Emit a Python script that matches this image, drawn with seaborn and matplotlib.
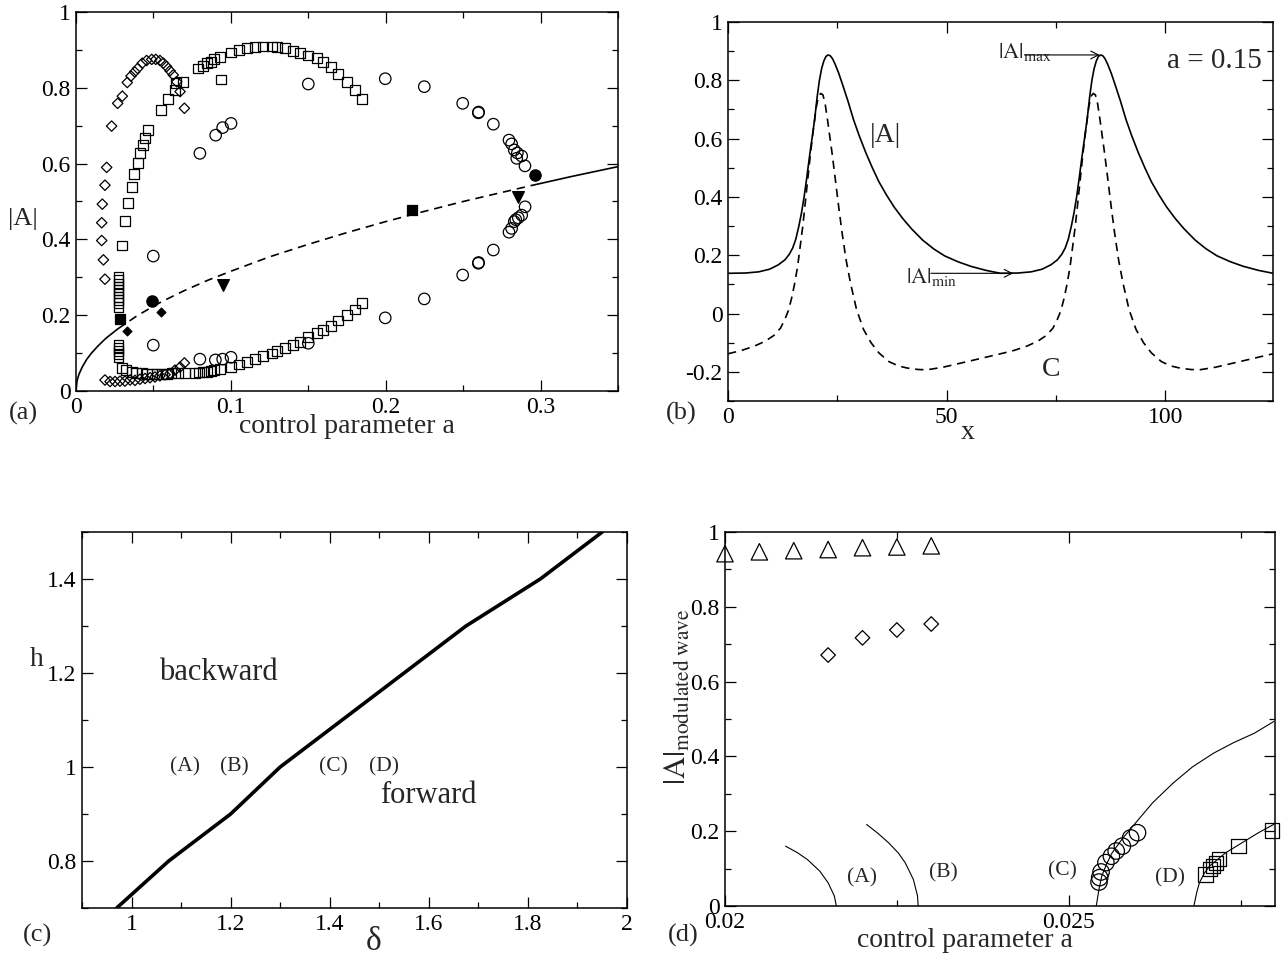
import matplotlib
matplotlib.use("Agg")
import matplotlib.pyplot as plt
import seaborn as sns
from matplotlib.ticker import MultipleLocator, FuncFormatter

# ============ DATA ============
# ---- panel (a): |A| vs control parameter a ----
line_a_lo = [0, 0.0005, 0.001, 0.002, 0.004, 0.007, 0.010, 0.014, 0.019, 0.027]
line_v_lo = [0, 0.022, 0.032, 0.045, 0.063, 0.084, 0.100, 0.118, 0.138, 0.164]
line_a_mid = [0.027, 0.04, 0.055, 0.07, 0.085, 0.10, 0.125, 0.15, 0.175, 0.20, 0.225, 0.25, 0.275, 0.295]
line_v_mid = [0.164, 0.200, 0.235, 0.265, 0.292, 0.316, 0.354, 0.387, 0.418, 0.447, 0.474, 0.500, 0.524, 0.543]
line_a_hi = [0.295, 0.32, 0.35]
line_v_hi = [0.543, 0.566, 0.592]

dia_a = [0.0187, 0.0177, 0.0166, 0.0166, 0.0170, 0.0187, 0.0198, 0.0230, 0.0269, 0.0299,
         0.0331, 0.0355, 0.0379, 0.0398, 0.0428, 0.0456, 0.0489, 0.0515, 0.0542, 0.0564,
         0.0585, 0.0607, 0.0628, 0.0650, 0.0672, 0.0700,
         0.0187, 0.0220, 0.0252, 0.0284, 0.0316, 0.0349, 0.0381, 0.0413, 0.0446, 0.0478,
         0.0510, 0.0542, 0.0575, 0.0607, 0.0639, 0.0672, 0.0700]
dia_v = [0.295, 0.346, 0.397, 0.444, 0.493, 0.543, 0.590, 0.699, 0.759, 0.778,
         0.814, 0.831, 0.842, 0.851, 0.865, 0.872, 0.875, 0.875, 0.872, 0.865,
         0.856, 0.845, 0.834, 0.816, 0.790, 0.746,
         0.029, 0.025, 0.025, 0.026, 0.026, 0.029, 0.028, 0.031, 0.033, 0.035,
         0.037, 0.040, 0.043, 0.046, 0.055, 0.063, 0.074]

sq_a = [0.0275] * 10 + [0.0275] * 5 + \
       [0.0295, 0.0316, 0.0338, 0.0360, 0.0377, 0.0398, 0.0413, 0.0435, 0.0446, 0.0463,
        0.0547, 0.0596, 0.0639, 0.0644, 0.0693] + \
       [0.0295, 0.0324, 0.0360, 0.0390, 0.0424, 0.0456, 0.0489, 0.0520, 0.0553, 0.0585,
        0.0617, 0.0660, 0.0704] + \
       [0.0790, 0.0818, 0.0844, 0.0870, 0.0893, 0.0930, 0.0999, 0.1053, 0.1102, 0.1156,
        0.1210, 0.1264, 0.1296, 0.1350, 0.1403, 0.1446, 0.1500, 0.1554, 0.1597, 0.1645,
        0.1694, 0.1748, 0.1802, 0.1849] + \
       [0.0768, 0.0796, 0.0818, 0.0844, 0.0870, 0.0893, 0.0930, 0.0999, 0.1053, 0.1102,
        0.1156, 0.1210, 0.1264, 0.1296, 0.1350, 0.1403, 0.1446, 0.1500, 0.1554, 0.1597,
        0.1645, 0.1694, 0.1748, 0.1802, 0.1849] + [0.0936]
sq_v = [0.300, 0.292, 0.283, 0.275, 0.266, 0.258, 0.249, 0.240, 0.232, 0.222] + \
       [0.121, 0.113, 0.105, 0.097, 0.089] + \
       [0.384, 0.449, 0.495, 0.539, 0.573, 0.601, 0.627, 0.649, 0.667, 0.689,
        0.741, 0.770, 0.794, 0.813, 0.816] + \
       [0.060, 0.055, 0.051, 0.048, 0.047, 0.045, 0.044, 0.044, 0.044, 0.045,
        0.047, 0.047, 0.047] + \
       [0.851, 0.858, 0.865, 0.869, 0.875, 0.882, 0.893, 0.900, 0.906, 0.908,
        0.909, 0.909, 0.908, 0.904, 0.898, 0.891, 0.885, 0.878, 0.869, 0.855,
        0.836, 0.816, 0.794, 0.770] + \
       [0.048, 0.049, 0.050, 0.051, 0.053, 0.055, 0.057, 0.063, 0.070, 0.077,
        0.084, 0.092, 0.099, 0.106, 0.114, 0.121, 0.130, 0.142, 0.152, 0.161,
        0.172, 0.186, 0.200, 0.215, 0.233] + [0.822]

circ_a = [0.0499, 0.0499, 0.0800, 0.0902, 0.0947, 0.1001, 0.0800, 0.0900, 0.0947, 0.1001,
          0.1500, 0.1500, 0.1997, 0.1997, 0.2249, 0.2249, 0.2497, 0.2497, 0.2598, 0.2600,
          0.2598, 0.2600, 0.2695, 0.2695, 0.2796, 0.2813, 0.2830, 0.2846, 0.2850, 0.2878,
          0.2899, 0.2900, 0.2878, 0.2856, 0.2840, 0.2830, 0.2813, 0.2796]
circ_v = [0.356, 0.121, 0.627, 0.675, 0.695, 0.706, 0.084, 0.082, 0.084, 0.089,
          0.810, 0.126, 0.824, 0.193, 0.803, 0.243, 0.759, 0.306, 0.734, 0.736,
          0.337, 0.339, 0.704, 0.372, 0.662, 0.652, 0.636, 0.614, 0.628, 0.620,
          0.594, 0.486, 0.464, 0.457, 0.452, 0.447, 0.429, 0.419]

fsq_a, fsq_v = [0.0284, 0.2168], [0.189, 0.478]
fcirc_a, fcirc_v = [0.0493, 0.2964], [0.238, 0.570]
fdia_a, fdia_v = [0.0331, 0.0547], [0.159, 0.209]
ftri_a, ftri_v = [0.0951, 0.2852], [0.280, 0.511]

# ---- panel (b): profiles at a = 0.15 ----
bx_A = [0, 4, 7, 9.5, 11.5, 13.0, 14.0, 14.8, 15.5, 16.2,
        16.8, 17.4, 18.0, 18.6, 19.2, 19.8, 20.4, 20.9, 21.4, 21.9,
        22.4, 22.9, 23.4, 23.9, 24.5, 25.3, 26.2, 27.4, 28.7, 30.0,
        31.5, 33.0, 34.5, 36.3, 38.0, 40.0, 42.0, 44.5, 47.0, 49.5,
        52.5, 55.5, 59.0,
        62.3, 66.3, 69.3, 71.8, 73.8, 75.3, 76.3, 77.1, 77.8, 78.5,
        79.1, 79.7, 80.3, 80.9, 81.5, 82.1, 82.7, 83.2, 83.7, 84.2,
        84.7, 85.2, 85.7, 86.2, 86.8, 87.6, 88.5, 89.7, 91.0, 92.3,
        93.8, 95.3, 96.8, 98.6, 100.3, 102.3, 104.3, 106.8, 109.3, 111.8,
        114.8, 117.8, 121.3, 124.6]
by_A = [0.138, 0.139, 0.143, 0.152, 0.167, 0.184, 0.203, 0.225, 0.255, 0.300,
        0.345, 0.400, 0.465, 0.535, 0.600, 0.665, 0.745, 0.800, 0.840, 0.866,
        0.882, 0.887, 0.884, 0.874, 0.855, 0.825, 0.785, 0.730, 0.665, 0.610,
        0.552, 0.500, 0.452, 0.405, 0.365, 0.325, 0.290, 0.252, 0.222, 0.198,
        0.178, 0.162, 0.148,
        0.138, 0.139, 0.143, 0.152, 0.167, 0.184, 0.203, 0.225, 0.255, 0.300,
        0.345, 0.400, 0.465, 0.535, 0.600, 0.665, 0.745, 0.800, 0.840, 0.866,
        0.882, 0.887, 0.884, 0.874, 0.855, 0.825, 0.785, 0.730, 0.665, 0.610,
        0.552, 0.500, 0.452, 0.405, 0.365, 0.325, 0.290, 0.252, 0.222, 0.198,
        0.178, 0.162, 0.148, 0.138]
bx_C = [0, 3, 6, 8.5, 10.5, 12.0, 13.0, 13.8, 14.5, 15.2,
        15.9, 16.5, 17.1, 17.7, 18.3, 18.9, 19.6, 20.2, 20.7, 21.2,
        21.7, 22.2, 22.7, 23.2, 23.7, 24.5, 25.3, 26.1, 27.0, 28.0,
        29.4, 31.0, 32.7, 34.5, 36.8, 39.0, 41.0, 43.5, 45.5, 49.2,
        55.8,
        62.3, 65.3, 68.3, 70.8, 72.8, 74.3, 75.3, 76.1, 76.8, 77.5,
        78.2, 78.8, 79.4, 80.0, 80.6, 81.2, 81.9, 82.5, 83.0, 83.5,
        84.0, 84.5, 85.0, 85.5, 86.0, 86.8, 87.6, 88.4, 89.3, 90.3,
        91.7, 93.3, 95.0, 96.8, 99.1, 101.3, 103.3, 105.8, 107.8, 111.5,
        118.1, 124.6]
by_C = [-0.138, -0.127, -0.112, -0.095, -0.075, -0.050, -0.020, 0.010, 0.050, 0.100,
        0.160, 0.230, 0.300, 0.385, 0.470, 0.555, 0.641, 0.710, 0.745, 0.755,
        0.750, 0.720, 0.670, 0.615, 0.561, 0.465, 0.367, 0.275, 0.184, 0.105,
        0.013, -0.055, -0.100, -0.135, -0.165, -0.180, -0.187, -0.192, -0.193, -0.184,
        -0.161,
        -0.138, -0.127, -0.112, -0.095, -0.075, -0.050, -0.020, 0.010, 0.050, 0.100,
        0.160, 0.230, 0.300, 0.385, 0.470, 0.555, 0.641, 0.710, 0.745, 0.755,
        0.750, 0.720, 0.670, 0.615, 0.561, 0.465, 0.367, 0.275, 0.184, 0.105,
        0.013, -0.055, -0.100, -0.135, -0.165, -0.180, -0.187, -0.192, -0.193, -0.184,
        -0.161, -0.138]

# ---- panel (c): phase boundary ----
c_delta = [0.97, 1.075, 1.2, 1.3, 1.675, 1.825, 1.95]
c_h = [0.70, 0.80, 0.90, 1.00, 1.30, 1.40, 1.50]

# ---- panel (d): modulated wave amplitude ----
d_tri_a = [0.0200, 0.0205, 0.0210, 0.0215, 0.0220, 0.0225, 0.0230]
d_tri_v = [0.942, 0.947, 0.950, 0.953, 0.958, 0.960, 0.963]
d_dia_a = [0.0215, 0.0220, 0.0225, 0.0230]
d_dia_v = [0.671, 0.717, 0.738, 0.754]
d_circ_a = [0.02544, 0.02545, 0.02547, 0.02554, 0.02562, 0.02569, 0.02578, 0.02590, 0.02600]
d_circ_v = [0.064, 0.076, 0.091, 0.116, 0.133, 0.147, 0.160, 0.182, 0.196]
d_sq_a = [0.02699, 0.02705, 0.02710, 0.02714, 0.02718, 0.02747, 0.02796]
d_sq_v = [0.084, 0.098, 0.107, 0.116, 0.126, 0.160, 0.202]
d_curveA_a = [0.02088, 0.02105, 0.02120, 0.02138, 0.02150, 0.02159, 0.02162]
d_curveA_v = [0.160, 0.143, 0.124, 0.093, 0.062, 0.027, 0.000]
d_curveB_a = [0.02206, 0.02222, 0.02238, 0.02252, 0.02262, 0.02274, 0.02280, 0.02281]
d_curveB_v = [0.218, 0.195, 0.169, 0.142, 0.116, 0.071, 0.027, 0.000]
d_curveC_a = [0.02540, 0.02544, 0.02548, 0.02555, 0.02563, 0.02578, 0.02593, 0.02622, 0.02652, 0.02680, 0.02711, 0.02740, 0.02770, 0.02798]
d_curveC_v = [0.000, 0.045, 0.080, 0.112, 0.142, 0.180, 0.213, 0.276, 0.329, 0.372, 0.409, 0.437, 0.462, 0.493]
d_curveD_a = [0.02682, 0.02686, 0.02690, 0.02697, 0.02705, 0.02728, 0.02752, 0.02776, 0.02798]
d_curveD_v = [0.000, 0.035, 0.062, 0.087, 0.107, 0.142, 0.169, 0.196, 0.218]

# ============ STYLE ============
sns.set_theme(style="ticks")
plt.rcParams["font.family"] = ["Liberation Serif", "DejaVu Serif"]
plt.rcParams["mathtext.fontset"] = "stix"
plt.rcParams["axes.linewidth"] = 1.1
plt.rcParams["axes.edgecolor"] = "black"

TICK_FS = 17

fig = plt.figure(figsize=(12.82, 9.59), dpi=100)
W, H = 1282.0, 959.0


def add_ax(l, t, r, b):
    return fig.add_axes([l / W, 1 - b / H, (r - l) / W, (b - t) / H])


fmt = FuncFormatter(lambda v, p: "%g" % round(v, 6))


def style(ax, xlim, ylim, xmaj, xmin, ymaj, ymin):
    ax.set_xlim(*xlim)
    ax.set_ylim(*ylim)
    ax.xaxis.set_major_locator(MultipleLocator(xmaj))
    ax.xaxis.set_minor_locator(MultipleLocator(xmin))
    ax.yaxis.set_major_locator(MultipleLocator(ymaj))
    ax.yaxis.set_minor_locator(MultipleLocator(ymin))
    ax.xaxis.set_major_formatter(fmt)
    ax.yaxis.set_major_formatter(fmt)
    ax.tick_params(which="both", direction="in", top=True, right=True,
                   colors="black", width=0.9, labelsize=TICK_FS)
    ax.tick_params(which="major", length=8, pad=4)
    ax.tick_params(which="minor", length=4)
    for s in ax.spines.values():
        s.set_visible(True)
        s.set_linewidth(1.1)
        s.set_color("black")
    ax.set_facecolor("white")
    ax.grid(False)


def line(ax, x, y, lw=1.2, ls="-"):
    sns.lineplot(x=x, y=y, ax=ax, color="black", linewidth=lw, sort=False,
                 estimator=None, legend=False)
    ln = ax.get_lines()[-1]
    ln.set_linestyle(ls)
    ln.set_solid_joinstyle("round")
    return ln


def pts(ax, x, y, marker, s, filled=False, lw=0.9, clip=True):
    sns.scatterplot(x=x, y=y, ax=ax, marker=marker, s=s, color="black",
                    linewidth=lw, legend=False, zorder=3)
    c = ax.collections[-1]
    if not filled:
        c.set_facecolor("none")
    c.set_edgecolor("black")
    c.set_linewidth(lw)
    c.set_clip_on(clip)
    return c


# ---------------- (a) ----------------
axA = add_ax(76, 12, 618, 391)
line(axA, line_a_lo, line_v_lo)
line(axA, line_a_mid, line_v_mid, ls=(0, (5, 3.5)))
line(axA, line_a_hi, line_v_hi)
pts(axA, dia_a, dia_v, "D", 28)
pts(axA, sq_a, sq_v, "s", 50)
pts(axA, circ_a, circ_v, "o", 68)
pts(axA, fsq_a, fsq_v, "s", 55, filled=True)
pts(axA, fcirc_a, fcirc_v, "o", 66, filled=True)
pts(axA, fdia_a, fdia_v, "D", 20, filled=True)
pts(axA, ftri_a, ftri_v, "v", 72, filled=True)
style(axA, (0, 0.35), (0, 1), 0.1, 0.05, 0.2, 0.1)
axA.set_xlabel("control parameter a", fontsize=20)
axA.xaxis.set_label_coords(0.5, -0.062)
axA.set_ylabel("|A|", fontsize=19, rotation=0, ha="center", va="center")
axA.yaxis.set_label_coords(-0.098, 0.454)

# ---------------- (b) ----------------
axB = add_ax(728, 22, 1273, 401)
line(axB, bx_A, by_A, lw=1.2)
line(axB, bx_C, by_C, lw=1.2, ls=(0, (5, 3.5)))
style(axB, (0, 124.6), (-0.3, 1), 50, 25, 0.2, 0.1)
axB.set_xlabel("x", fontsize=20)
axB.xaxis.set_label_coords(0.44, -0.05)
axB.set_ylabel("")
axB.text(36.1, 0.61, "|A|", fontsize=20, ha="center", va="center")
axB.text(73.8, -0.193, "C", fontsize=20, ha="center", va="center")
axB.text(111.3, 0.867, "a = 0.15", fontsize=21, ha="center", va="center")
axB.text(61.8, 0.896, r"$|\mathrm{A}|_{\mathrm{max}}$", fontsize=16, ha="left", va="center")
axB.annotate("", xy=(85.0, 0.887), xytext=(67.8, 0.887),
             arrowprops=dict(arrowstyle="->", lw=0.8, color="black",
                             shrinkA=0, shrinkB=0, mutation_scale=14))
axB.text(40.7, 0.127, r"$|\mathrm{A}|_{\mathrm{min}}$", fontsize=16, ha="left", va="center")
axB.annotate("", xy=(65.2, 0.138), xytext=(46.4, 0.138),
             arrowprops=dict(arrowstyle="->", lw=0.8, color="black",
                             shrinkA=0, shrinkB=0, mutation_scale=14))

# ---------------- (c) ----------------
axC = add_ax(82, 532, 627, 908)
line(axC, c_delta, c_h, lw=2.6)
style(axC, (0.9, 2.0), (0.7, 1.5), 0.2, 0.1, 0.2, 0.1)
axC.set_xlabel("\u03b4", fontsize=24)
axC.xaxis.set_label_coords(0.536, -0.05)
axC.set_ylabel("h", fontsize=20, rotation=0, ha="center", va="center")
axC.yaxis.set_label_coords(-0.083, 0.66)
axC.text(1.175, 1.2, "backward", fontsize=22, ha="center", va="center")
axC.text(1.60, 0.94, "forward", fontsize=22, ha="center", va="center")
for lab, xx in zip(["(A)", "(B)", "(C)", "(D)"], [1.108, 1.208, 1.407, 1.509]):
    axC.text(xx, 1.0, lab, fontsize=15.5, ha="center", va="center")

# ---------------- (d) ----------------
axD = add_ax(725, 532, 1275, 906)
for xa, ya in [(d_curveA_a, d_curveA_v), (d_curveB_a, d_curveB_v),
               (d_curveC_a, d_curveC_v), (d_curveD_a, d_curveD_v)]:
    line(axD, xa, ya, lw=0.8)
pts(axD, d_tri_a, d_tri_v, "^", 140, clip=False)
pts(axD, d_dia_a, d_dia_v, "D", 55, clip=False)
pts(axD, d_circ_a, d_circ_v, "o", 140, clip=False)
pts(axD, d_sq_a, d_sq_v, "s", 105, clip=False)
style(axD, (0.02, 0.028), (0, 1), 0.005, 0.0025, 0.2, 0.1)
axD.set_xlabel("control parameter a", fontsize=20)
axD.xaxis.set_label_coords(0.436, -0.06)
axD.set_ylabel(r"$|\mathrm{A}|_{\mathrm{modulated\ wave}}$", fontsize=22,
               rotation=90, ha="center", va="center")
axD.yaxis.set_label_coords(-0.085, 0.559)
for lab, xx, yy in [("(A)", 0.02199, 0.076), ("(B)", 0.02318, 0.089),
                    ("(C)", 0.02491, 0.093), ("(D)", 0.02647, 0.076)]:
    axD.text(xx, yy, lab, fontsize=15.5, ha="center", va="center")

# ---------------- panel letters ----------------
for lab, px, py in [("(a)", 23, 413), ("(b)", 681, 413), ("(c)", 37, 935), ("(d)", 683, 935)]:
    fig.text(px / W, 1 - py / H, lab, fontsize=19, ha="center", va="center")

fig.savefig("out.png", dpi=100, facecolor="white")
